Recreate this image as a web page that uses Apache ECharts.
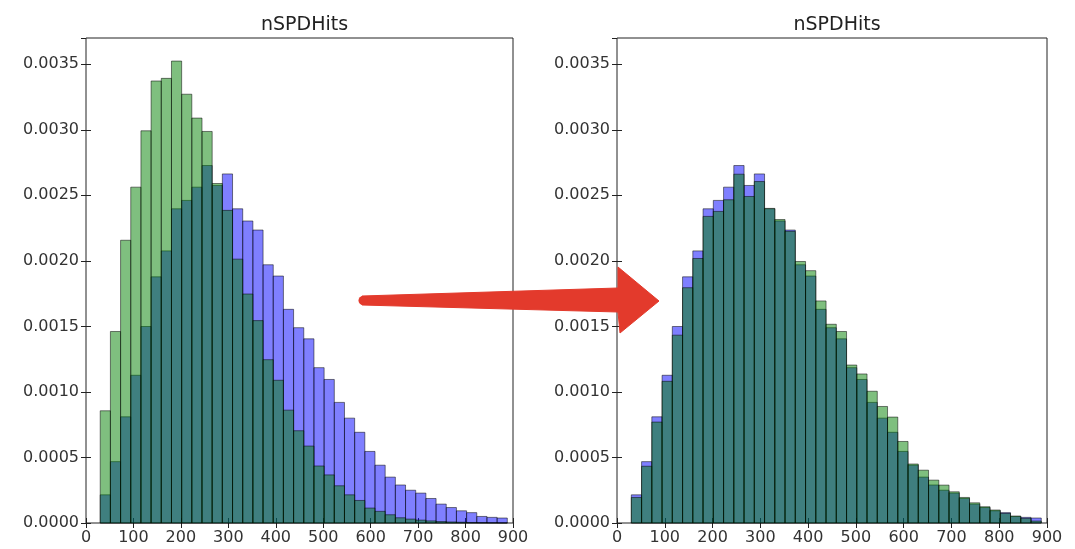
<!DOCTYPE html>
<html>
<head>
<meta charset="utf-8">
<script src="https://cdn.jsdelivr.net/npm/echarts@6/dist/echarts.min.js"></script>
<style>
  html, body { margin: 0; padding: 0; background: #ffffff; }
  #chart { width: 1075px; height: 549px; }
</style>
</head>
<body>
<div id="chart"></div>
<script>
// Histogram binning of nSPDHits (40 equal-width bins)
const binFirstEdge = 30;
const binWidth = 21.45;
const binCount = 40;

// Normalised densities per bin
const targetDensity = [
  0.000215, 0.000468, 0.000810, 0.001127, 0.001499, 0.001878, 0.002076, 0.002397,
  0.002461, 0.002562, 0.002727, 0.002575, 0.002663, 0.002397, 0.002304, 0.002235,
  0.001970, 0.001884, 0.001630, 0.001490, 0.001405, 0.001185, 0.001095, 0.000920,
  0.000800, 0.000692, 0.000546, 0.000441, 0.000350, 0.000290, 0.000250, 0.000228,
  0.000187, 0.000144, 0.000118, 0.000093, 0.000079, 0.000050, 0.000043, 0.000038
];

const sourceDensity = [
  0.000856, 0.001461, 0.002157, 0.002562, 0.002992, 0.003372, 0.003392, 0.003524,
  0.003271, 0.003089, 0.002987, 0.002590, 0.002385, 0.002013, 0.001747, 0.001544,
  0.001246, 0.001089, 0.000861, 0.000704, 0.000587, 0.000435, 0.000367, 0.000284,
  0.000215, 0.000172, 0.000114, 0.000089, 0.000063, 0.000040, 0.000030, 0.000022,
  0.000016, 0.000011, 0.000008, 0.000006, 0.000004, 0.000003, 0.000002, 0.000001
];

const reweightedDensity = [
  0.000195, 0.000433, 0.000770, 0.001081, 0.001433, 0.001795, 0.002018, 0.002339,
  0.002377, 0.002466, 0.002661, 0.002491, 0.002605, 0.002400, 0.002315, 0.002225,
  0.001995, 0.001925, 0.001694, 0.001516, 0.001461, 0.001205, 0.001137, 0.001005,
  0.000889, 0.000808, 0.000622, 0.000450, 0.000403, 0.000327, 0.000289, 0.000238,
  0.000195, 0.000154, 0.000124, 0.000099, 0.000073, 0.000053, 0.000035, 0.000015
];

const panelTitles = ['nSPDHits', 'nSPDHits'];
const xTicks = { min: 0, max: 900, step: 100 };
const yTicks = { min: 0, max: 0.0037, step: 0.0005 };

// Build [binStart, binEnd, density] rows
function histRows(values) {
  const rows = [];
  for (let i = 0; i < binCount; i++) {
    const lo = binFirstEdge + i * binWidth;
    rows.push([lo, lo + binWidth, values[i]]);
  }
  return rows;
}

const BLUE = 'rgba(0,0,255,0.5)';
const GREEN = 'rgba(0,128,0,0.5)';
const EDGE = 'rgba(0,0,0,0.5)';

function histSeries(values, fill, axisIdx, z) {
  return {
    type: 'custom',
    xAxisIndex: axisIdx,
    yAxisIndex: axisIdx,
    z: z,
    silent: true,
    encode: { x: [0, 1], y: 2 },
    data: histRows(values),
    renderItem: function (params, api) {
      const topLeft = api.coord([api.value(0), api.value(2)]);
      const bottomRight = api.coord([api.value(1), 0]);
      return {
        type: 'rect',
        shape: {
          x: topLeft[0],
          y: topLeft[1],
          width: bottomRight[0] - topLeft[0],
          height: bottomRight[1] - topLeft[1]
        },
        style: { fill: fill, stroke: EDGE, lineWidth: 1 }
      };
    }
  };
}

const labelFont = { fontFamily: 'DejaVu Sans', fontSize: 16, color: '#333333' };
const tickStyle = { show: true, inside: true, length: 5, lineStyle: { color: '#222222', width: 1 } };

function xAxisDef(gridIndex, position, showLabels) {
  return {
    type: 'value', gridIndex: gridIndex, position: position,
    min: xTicks.min, max: xTicks.max, interval: xTicks.step,
    axisLine: { show: false },
    axisTick: tickStyle,
    splitLine: { show: false },
    axisLabel: Object.assign({ show: showLabels, margin: 7 }, labelFont)
  };
}

function yAxisDef(gridIndex, position, showLabels) {
  return {
    type: 'value', gridIndex: gridIndex, position: position,
    min: yTicks.min, max: yTicks.max, interval: yTicks.step,
    axisLine: { show: false },
    axisTick: tickStyle,
    splitLine: { show: false },
    axisLabel: Object.assign({
      show: showLabels, margin: 7, showMaxLabel: false,
      formatter: function (v) { return v.toFixed(4); }
    }, labelFont)
  };
}

const grids = [
  { left: 86, top: 38, width: 427, height: 485 },
  { left: 617, top: 38, width: 430, height: 485 }
];

const chart = echarts.init(document.getElementById('chart'), null, { renderer: 'canvas' });

chart.setOption({
  animation: false,
  backgroundColor: '#ffffff',
  title: grids.map(function (g, i) {
    return {
      text: panelTitles[i],
      left: g.left + g.width / 2,
      top: 11,
      textAlign: 'center',
      textStyle: { fontFamily: 'DejaVu Sans', fontSize: 19, fontWeight: 'normal', color: '#222222' }
    };
  }),
  grid: grids.map(function (g) {
    return Object.assign({ show: true, borderColor: '#222222', borderWidth: 1, backgroundColor: 'transparent' }, g);
  }),
  xAxis: [
    xAxisDef(0, 'bottom', true), xAxisDef(1, 'bottom', true),
    xAxisDef(0, 'top', false), xAxisDef(1, 'top', false)
  ],
  yAxis: [
    yAxisDef(0, 'left', true), yAxisDef(1, 'left', true),
    yAxisDef(0, 'right', false), yAxisDef(1, 'right', false)
  ],
  series: [
    histSeries(targetDensity, BLUE, 0, 2),
    histSeries(sourceDensity, GREEN, 0, 3),
    histSeries(targetDensity, BLUE, 1, 2),
    histSeries(reweightedDensity, GREEN, 1, 3)
  ],
  graphic: [
    {
      // red arrow pointing from the raw comparison to the reweighted one
      type: 'polygon',
      z: 100,
      shape: {
        points: [
          [362, 296], [618, 288], [618, 267], [659, 301],
          [620, 333], [618, 312], [362, 305]
        ]
      },
      style: { fill: '#e33a2c', stroke: '#e33a2c', lineWidth: 1, lineJoin: 'round' }
    },
    {
      type: 'circle',
      z: 100,
      shape: { cx: 363, cy: 300.5, r: 4.5 },
      style: { fill: '#e33a2c' }
    }
  ]
});
</script>
</body>
</html>
